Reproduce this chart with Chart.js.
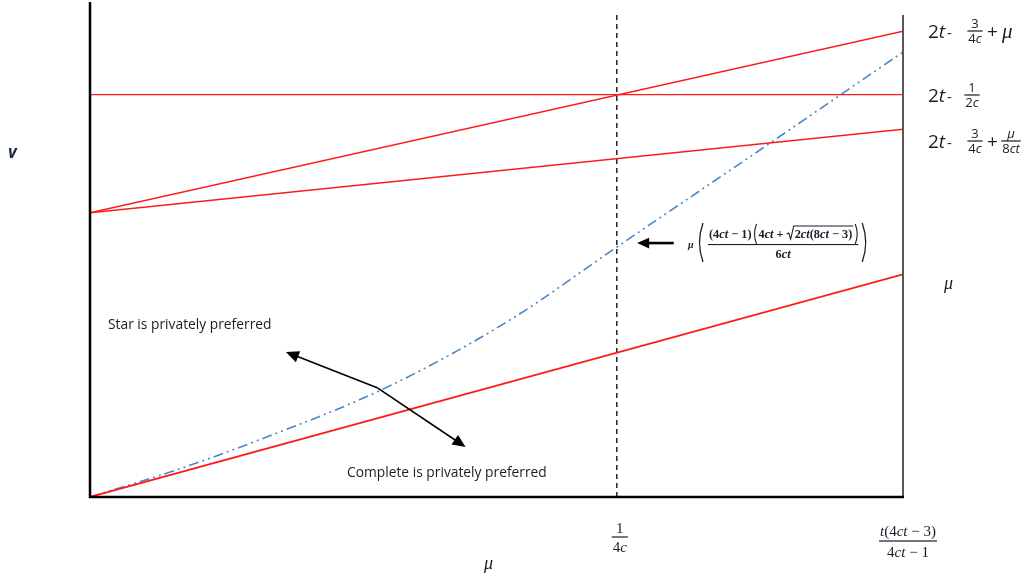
<!DOCTYPE html>
<html lang="en">
<head>
<meta charset="UTF-8">
<title>Star vs Complete</title>
<style>
  body { margin: 0; background: #ffffff; }
  #box { width: 1032px; height: 580px; position: relative; }
</style>
</head>
<body>
<div id="box"><canvas id="grafico"></canvas></div>

<script src="https://cdn.jsdelivr.net/npm/chart.js"></script>
<script>
// === dados (unidades arbitrárias 0..100) ===
const xEnds = [0, 100];
const upperLine = [57.4, 94.1];   // 2t - 3/4c + mu
const flatLine = [81.3, 81.3];    // 2t - 1/2c
const lowerLine = [57.4, 74.3];   // 2t - 3/4c + mu/8ct
const muLine = [0, 45.0];         // mu
const curveX = [0, 10.5, 20.9, 36.3, 51.7, 64.8, 82.4, 100];
const curveY = [0, 5.4, 11.6, 22.0, 35.8, 50.5, 70.1, 89.9];
const cutX = 64.8;                // 1/4c
const cutTop = 98;

// setas (em unidades dos eixos)
const arrowTail = [35.4, 22.0];
const arrowHeads = [[24.1, 29.3], [46.2, 10.1]];
const formulaArrow = [[71.8, 51.3], [67.3, 51.3]];

function pts(xs, ys) { return xs.map((x, i) => ({ x: x, y: ys[i] })); }

const RED = '#ff1a1a';
const BLUE = '#4a86c8';
const INK = '#1c1c28';

function arrow(ctx, x1, y1, x2, y2, w, head) {
    const a = Math.atan2(y2 - y1, x2 - x1);
    ctx.save();
    ctx.strokeStyle = '#000';
    ctx.fillStyle = '#000';
    ctx.lineWidth = w;
    ctx.beginPath();
    ctx.moveTo(x1, y1);
    ctx.lineTo(x2 - Math.cos(a) * head * 0.8, y2 - Math.sin(a) * head * 0.8);
    ctx.stroke();
    ctx.beginPath();
    ctx.moveTo(x2, y2);
    ctx.lineTo(x2 - head * Math.cos(a) + head * 0.45 * Math.sin(a), y2 - head * Math.sin(a) - head * 0.45 * Math.cos(a));
    ctx.lineTo(x2 - head * Math.cos(a) - head * 0.45 * Math.sin(a), y2 - head * Math.sin(a) + head * 0.45 * Math.cos(a));
    ctx.closePath();
    ctx.fill();
    ctx.restore();
}

// texto com partes (normal / itálico)
let weight = '';
function runs(ctx, parts, x, y, size, family) {
    let cx = x;
    parts.forEach(p => {
        ctx.font = (p[1] ? 'italic ' : '') + weight + size + 'px ' + family;
        ctx.fillText(p[0], cx, y);
        cx += ctx.measureText(p[0]).width;
    });
    return cx;
}
function runsWidth(ctx, parts, size, family) {
    let w = 0;
    parts.forEach(p => {
        ctx.font = (p[1] ? 'italic ' : '') + weight + size + 'px ' + family;
        w += ctx.measureText(p[0]).width;
    });
    return w;
}
function frac(ctx, num, den, cx, barY, size, family, gap) {
    const wn = runsWidth(ctx, num, size, family);
    const wd = runsWidth(ctx, den, size, family);
    const w = Math.max(wn, wd) + 2;
    ctx.fillRect(cx - w / 2, barY - 0.6, w, 1.2);
    ctx.textBaseline = 'alphabetic';
    runs(ctx, num, cx - wn / 2, barY - gap, size, family);
    runs(ctx, den, cx - wd / 2, barY + size * 0.8 + gap - 1, size, family);
    return w;
}
// parêntese desenhado
function paren(ctx, x, y1, y2, dir, bulge, w) {
    ctx.save();
    ctx.lineWidth = w;
    ctx.strokeStyle = INK;
    ctx.beginPath();
    ctx.moveTo(x, y1);
    ctx.quadraticCurveTo(x - dir * bulge, (y1 + y2) / 2, x, y2);
    ctx.stroke();
    ctx.restore();
}

const decor = {
    id: 'decor',
    afterDraw(chart) {
        const ctx = chart.ctx;
        const a = chart.chartArea;
        const sx = chart.scales.x, sy = chart.scales.y;
        ctx.save();

        // eixos
        ctx.lineCap = 'butt';
        ctx.strokeStyle = '#595959';
        ctx.lineWidth = 2;
        ctx.beginPath(); ctx.moveTo(a.right, a.top + 13); ctx.lineTo(a.right, a.bottom); ctx.stroke();
        ctx.strokeStyle = '#000';
        ctx.lineWidth = 2.5;
        ctx.beginPath(); ctx.moveTo(a.left, a.top); ctx.lineTo(a.left, a.bottom + 1); ctx.stroke();
        ctx.beginPath(); ctx.moveTo(a.left - 1, a.bottom); ctx.lineTo(a.right + 1, a.bottom); ctx.stroke();

        // setas
        const tx = sx.getPixelForValue(arrowTail[0]), ty = sy.getPixelForValue(arrowTail[1]);
        arrowHeads.forEach(h => arrow(ctx, tx, ty, sx.getPixelForValue(h[0]), sy.getPixelForValue(h[1]), 1.6, 13));
        arrow(ctx, sx.getPixelForValue(formulaArrow[0][0]), sy.getPixelForValue(formulaArrow[0][1]),
              sx.getPixelForValue(formulaArrow[1][0]), sy.getPixelForValue(formulaArrow[1][1]), 2.6, 12);

        ctx.fillStyle = INK;
        ctx.textBaseline = 'alphabetic';
        const SANS = '"Open Sans", "Noto Sans", sans-serif';
        const SERIF = '"Liberation Serif", "DejaVu Serif", serif';

        // rótulos das regiões
        ctx.font = '13.8px ' + SANS;
        ctx.fillText('Star is privately preferred', 108, 329);
        ctx.fillText('Complete is privately preferred', 347, 477);

        // rótulos à direita
        const L = 928;
        let e;
        // 2t - 3/4c + mu
        e = runs(ctx, [['2', false], ['t', true]], L, 38, 19, SANS);
        runs(ctx, [[' -', false]], e - 2, 38, 15, SANS);
        frac(ctx, [['3', false]], [['4', false], ['c', true]], 975, 31, 13, SANS, 3);
        runs(ctx, [['+', false]], 987, 38, 19, SANS);
        runs(ctx, [['\u03bc', true]], 1002, 38, 21, SERIF);
        // 2t - 1/2c
        e = runs(ctx, [['2', false], ['t', true]], L, 102, 19, SANS);
        runs(ctx, [[' -', false]], e - 2, 102, 15, SANS);
        frac(ctx, [['1', false]], [['2', false], ['c', true]], 972, 95, 13, SANS, 3);
        // 2t - 3/4c + mu/8ct
        e = runs(ctx, [['2', false], ['t', true]], L, 148, 19, SANS);
        runs(ctx, [[' -', false]], e - 2, 148, 15, SANS);
        frac(ctx, [['3', false]], [['4', false], ['c', true]], 975, 141, 13, SANS, 3);
        runs(ctx, [['+', false]], 987, 148, 19, SANS);
        frac(ctx, [['\u03bc', true]], [['8', false], ['ct', true]], 1011, 141, 13, SANS, 3);

        // mu à direita e eixos
        runs(ctx, [['\u03bc', true]], 944, 289, 18, SERIF);
        runs(ctx, [['\u03bc', true]], 484, 569, 18, SERIF);
        ctx.font = 'italic bold 17px ' + SANS;
        ctx.fillStyle = '#1f2a44';
        ctx.fillText('v', 8, 158);
        ctx.fillStyle = INK;

        // ticks do eixo x
        frac(ctx, [['1', false]], [['4', false], ['c', true]], sx.getPixelForValue(cutX) + 3, 537, 15, SERIF, 4);
        frac(ctx, [['t', true], ['(4', false], ['ct', true], [' \u2212 3)', false]],
             [['4', false], ['ct', true], [' \u2212 1', false]], 908, 541, 15, SERIF, 5);

        // fórmula da curva
        weight = 'bold ';
        const F = 12.3;
        runs(ctx, [['\u03bc', true]], 688, 248, 10, SERIF);
        paren(ctx, 703, 223, 262, 1, 7, 1.3);
        let nx = 709, ny = 238;
        nx = runs(ctx, [['(4', false], ['ct', true], [' \u2212 1)', false]], nx, ny, F, SERIF);
        paren(ctx, nx + 5, 224, 244, 1, 4, 1.1);
        nx += 7;
        nx = runs(ctx, [['4', false], ['ct', true], [' + ', false]], nx, ny, F, SERIF);
        // raiz
        ctx.strokeStyle = INK;
        ctx.lineWidth = 1.1;
        ctx.beginPath();
        ctx.moveTo(nx, ny - 4); ctx.lineTo(nx + 2, ny - 5); ctx.lineTo(nx + 4, ny + 1); ctx.lineTo(nx + 7, ny - 12);
        const rs = nx + 8;
        const re = runs(ctx, [['2', false], ['ct', true], ['(8', false], ['ct', true], [' \u2212 3)', false]], rs, ny, F, SERIF);
        ctx.lineTo(re + 1, ny - 12);
        ctx.stroke();
        paren(ctx, re + 3, 224, 244, -1, 4, 1.1);
        const barEnd = re + 6;
        ctx.fillRect(708, 244, barEnd - 708, 1.1);
        const wd = runsWidth(ctx, [['6', false], ['ct', true]], F, SERIF);
        runs(ctx, [['6', false], ['ct', true]], (708 + barEnd) / 2 - wd / 2, 258, F, SERIF);
        paren(ctx, barEnd + 4, 223, 262, -1, 7, 1.3);
        weight = '';

        ctx.restore();
    }
};

const lineStyle = (color, w) => ({
    borderColor: color, borderWidth: w, pointRadius: 0, fill: false, tension: 0
});

new Chart(document.getElementById('grafico'), {
    type: 'line',
    data: {
        datasets: [
            Object.assign({ data: pts(xEnds, upperLine) }, lineStyle(RED, 1.5)),
            Object.assign({ data: pts(xEnds, flatLine) }, lineStyle(RED, 1.2)),
            Object.assign({ data: pts(xEnds, lowerLine) }, lineStyle(RED, 1.5)),
            Object.assign({ data: pts(xEnds, muLine) }, lineStyle(RED, 1.8)),
            Object.assign({ data: pts(curveX, curveY), cubicInterpolationMode: 'monotone',
                            borderDash: [10, 4, 2, 4, 2, 4] }, lineStyle(BLUE, 1.6)),
            Object.assign({ data: pts([cutX, cutX], [0, cutTop]), borderDash: [5, 4] }, lineStyle('#000', 1.3))
        ]
    },
    options: {
        responsive: true,
        maintainAspectRatio: false,
        animation: false,
        layout: { padding: { left: 90, right: 129, top: 2, bottom: 83 } },
        scales: {
            x: { type: 'linear', min: 0, max: 100, display: false },
            y: { type: 'linear', min: 0, max: 100, display: false }
        },
        plugins: { legend: { display: false }, tooltip: { enabled: false } }
    },
    plugins: [decor]
});
</script>
</body>
</html>
